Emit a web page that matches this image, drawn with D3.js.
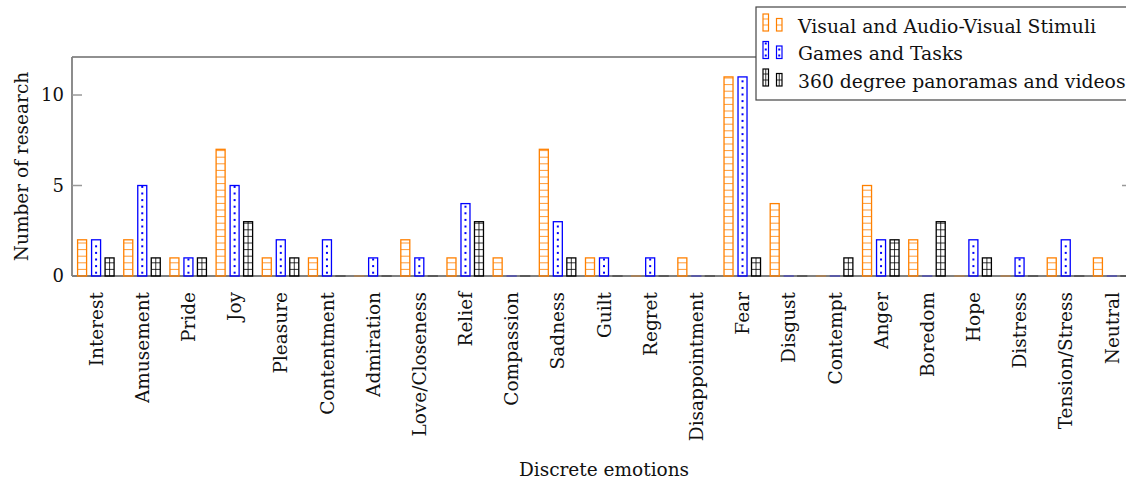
<!DOCTYPE html>
<html>
<head>
<meta charset="utf-8">
<script src="https://cdn.jsdelivr.net/npm/d3@7"></script>
<style>
  body { margin: 0; background: #fff; }
  text { font-family: "DejaVu Serif", serif; fill: #111; }
</style>
</head>
<body>
<svg id="canvas" width="1126" height="481"></svg>
<script>
let emotions = ['Interest', 'Amusement', 'Pride', 'Joy', 'Pleasure', 'Contentment',
  'Admiration', 'Love/Closeness', 'Relief', 'Compassion', 'Sadness', 'Guilt',
  'Regret', 'Disappointment', 'Fear', 'Disgust', 'Contempt', 'Anger', 'Boredom',
  'Hope', 'Distress', 'Tension/Stress', 'Neutral'];

let seriesNames = ['Visual and Audio-Visual Stimuli', 'Games and Tasks', '360 degree panoramas and videos'];

let visualStimuli = [2, 2, 1, 7, 1, 1, 0, 2, 1, 1, 7, 1, 0, 1, 11, 4, 0, 5, 2, 0, 0, 1, 1];
let gamesTasks    = [2, 5, 1, 5, 2, 2, 1, 1, 4, 0, 3, 1, 1, 0, 11, 0, 0, 2, 0, 2, 1, 2, 0];
let panoramas     = [1, 1, 1, 3, 1, 0, 0, 0, 3, 0, 1, 0, 0, 0, 1, 0, 1, 2, 3, 1, 0, 0, 0];

let yTicks = [0, 5, 10];

let canvas = d3.select('#canvas');

let plotLeft = 72, plotRight = 1132, plotTop = 57, plotBottom = 276;

let xScale = d3.scaleBand().domain(emotions).range([73, 1135]).padding(0);
let yScale = d3.scaleLinear().domain([0, 12.1]).range([plotBottom, plotTop]);

let styles = [
  { color: '#ff8000', offset: -14, pattern: 'hlines' },
  { color: '#0000ff', offset: 0, pattern: 'dots' },
  { color: '#000000', offset: 13.5, pattern: 'grid' }
];

let barWidth = 9;
let gap = 6.6;

// frame
canvas.append('line').attr('x1', plotLeft).attr('x2', plotRight).attr('y1', plotTop).attr('y2', plotTop)
  .attr('stroke', '#222').attr('stroke-width', 1.2);
canvas.append('line').attr('x1', plotLeft).attr('x2', plotLeft).attr('y1', plotTop).attr('y2', plotBottom)
  .attr('stroke', '#808080').attr('stroke-width', 1.8);
canvas.append('line').attr('x1', plotRight).attr('x2', plotRight).attr('y1', plotTop).attr('y2', plotBottom)
  .attr('stroke', '#808080').attr('stroke-width', 1.8);

// y axis
let yAxis = d3.axisLeft(yScale).tickValues(yTicks).tickSize(0).tickPadding(8);
let yG = canvas.append('g').attr('transform', 'translate(' + plotLeft + ',0)').call(yAxis);
yG.select('.domain').remove();
yG.selectAll('text').style('font-family', '"DejaVu Serif", serif').style('font-size', '18px').attr('fill', '#111');

// inner ticks on both sides
yTicks.filter((t) => t > 0).forEach((t) => {
  canvas.append('line').attr('x1', plotLeft).attr('x2', plotLeft + 10)
    .attr('y1', yScale(t)).attr('y2', yScale(t)).attr('stroke', '#999').attr('stroke-width', 1.5);
  canvas.append('line').attr('x1', plotRight - 10).attr('x2', plotRight)
    .attr('y1', yScale(t)).attr('y2', yScale(t)).attr('stroke', '#999').attr('stroke-width', 1.5);
});

// x axis
let xAxis = d3.axisBottom(xScale).tickSize(0).tickPadding(0);
let xG = canvas.append('g').attr('transform', 'translate(0,' + plotBottom + ')').call(xAxis);
xG.select('.domain').remove();
xG.selectAll('text')
  .style('font-family', '"DejaVu Serif", serif').style('font-size', '18.5px').attr('fill', '#111')
  .attr('text-anchor', 'end')
  .attr('transform', 'rotate(-90)')
  .attr('x', -16).attr('y', 0).attr('dy', '0.36em');

canvas.append('line').attr('x1', plotLeft).attr('x2', plotRight).attr('y1', plotBottom).attr('y2', plotBottom)
  .attr('stroke', '#808080').attr('stroke-width', 1.8);

// axis titles
canvas.append('text').attr('x', (plotLeft + plotRight) / 2 + 2).attr('y', 476)
  .attr('text-anchor', 'middle').style('font-size', '18.5px').text('Discrete emotions');
canvas.append('text').attr('transform', 'translate(28,' + ((plotTop + plotBottom) / 2) + ') rotate(-90)')
  .attr('text-anchor', 'middle').style('font-size', '18.5px').text('Number of research');

// pattern drawing inside a bar
let fillPattern = (g, x0, w, yTop, yBase, style, step) => {
  let cx = x0 + w / 2;
  if (style.pattern === 'hlines' || style.pattern === 'grid') {
    for (let yy = yBase - step; yy > yTop + 1; yy -= step) {
      g.append('line').attr('x1', x0).attr('x2', x0 + w).attr('y1', yy).attr('y2', yy)
        .attr('stroke', style.color).attr('stroke-width', 0.8);
    }
  }
  if (style.pattern === 'grid' && yBase - yTop > 1) {
    g.append('line').attr('x1', cx).attr('x2', cx).attr('y1', yTop).attr('y2', yBase)
      .attr('stroke', style.color).attr('stroke-width', 0.8);
  }
  if (style.pattern === 'dots') {
    for (let yy = yBase - step / 2; yy > yTop + 1; yy -= step) {
      g.append('rect').attr('x', cx - 1).attr('y', yy - 1).attr('width', 2).attr('height', 2)
        .attr('fill', style.color);
    }
  }
};

// bars
let allSeries = [visualStimuli, gamesTasks, panoramas];
allSeries.forEach((values, si) => {
  let style = styles[si];
  let group = canvas.append('g');
  values.forEach((v, i) => {
    let x0 = xScale(emotions[i]) + xScale.bandwidth() / 2 + style.offset - barWidth / 2;
    let yTop = yScale(v);
    let g = group.append('g');
    fillPattern(g, x0, barWidth, yTop, plotBottom, style, gap);
    g.append('rect')
      .attr('x', x0).attr('y', yTop)
      .attr('width', barWidth).attr('height', Math.max(plotBottom - yTop, 0.01))
      .attr('fill', 'none').attr('stroke', style.color).attr('stroke-width', 1.3)
      .attr('stroke-opacity', v === 0 ? 0.45 : 1);
  });
});

// legend
let legend = canvas.append('g');
legend.append('rect').attr('x', 756).attr('y', 7).attr('width', 380).attr('height', 93)
  .attr('fill', '#fff').attr('stroke', '#444').attr('stroke-width', 1.2);
seriesNames.forEach((name, i) => {
  let base = 32.5 + i * 27.5;
  let style = styles[i];
  [[763, 17], [776.5, 12.5]].forEach((icon) => {
    let g = legend.append('g');
    fillPattern(g, icon[0], 5.5, base - 1.5 - icon[1], base - 1.5, style, 6);
    g.append('rect').attr('x', icon[0]).attr('y', base - 1.5 - icon[1])
      .attr('width', 5.5).attr('height', icon[1])
      .attr('fill', 'none').attr('stroke', style.color).attr('stroke-width', 1.2);
  });
  legend.append('text').attr('x', 798).attr('y', base).style('font-size', '18.8px').text(name);
});
</script>
</body>
</html>
